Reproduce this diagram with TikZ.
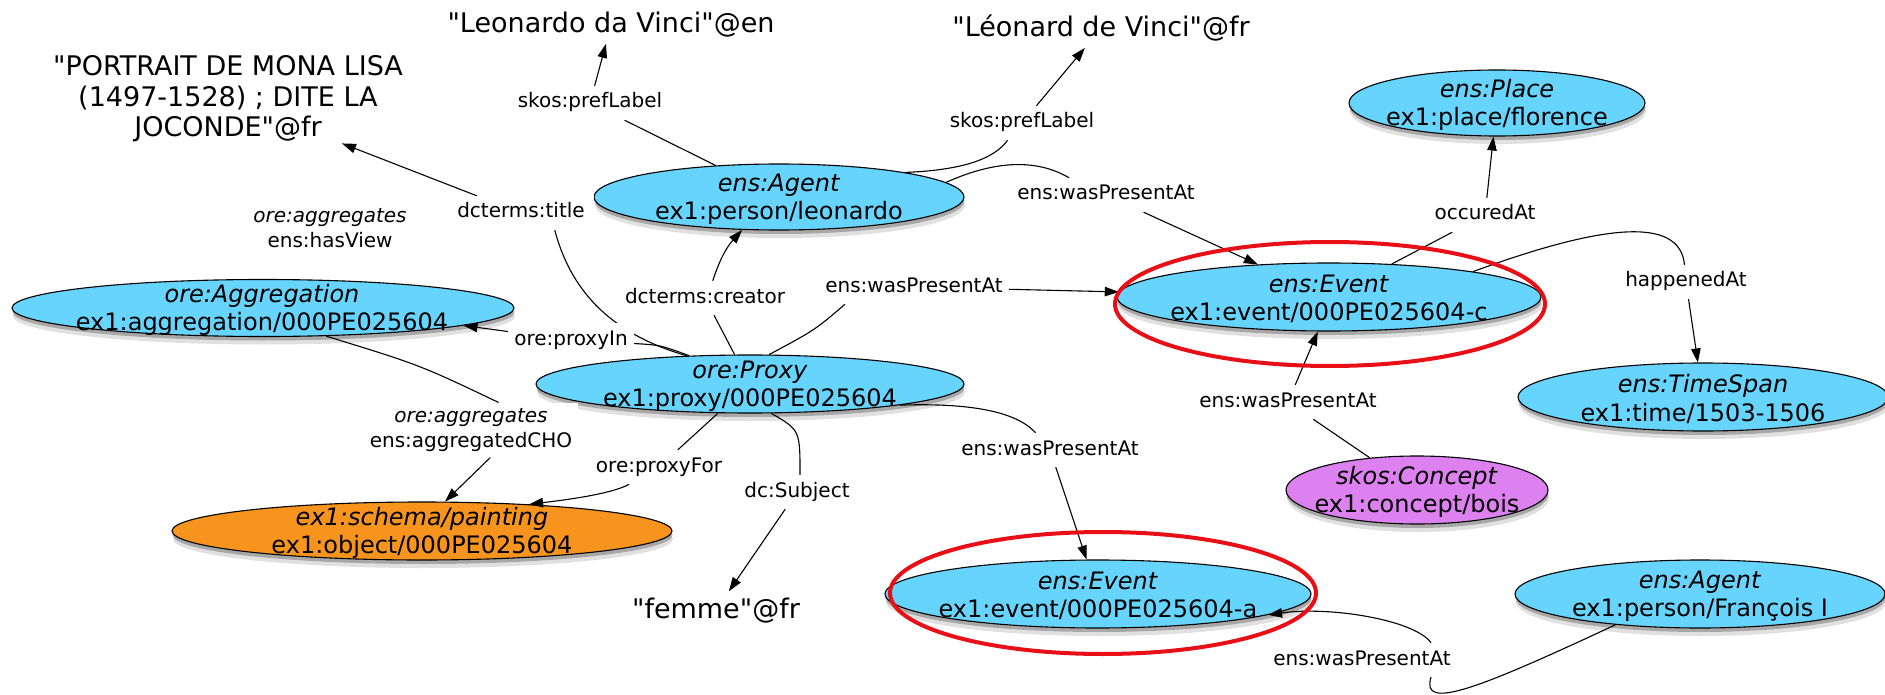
\documentclass[tikz,border=0pt]{standalone}
\usepackage{fontspec}
\newfontfamily\dvs{DejaVu Sans}
\usetikzlibrary{shapes.geometric,arrows.meta,shadows}
\definecolor{entblue}{RGB}{102,212,252}
\definecolor{entorange}{RGB}{247,148,30}
\definecolor{entpurple}{RGB}{221,128,240}
\definecolor{hlred}{RGB}{232,16,22}
\pgfdeclarelayer{fg}
\pgfsetlayers{main,fg}
\begin{document}
\begin{tikzpicture}[x=1pt,y=-1pt,
  ent/.style={ellipse, draw=black, line width=1.1pt, inner sep=0pt, fill=entblue,
    drop shadow={shadow xshift=1pt, shadow yshift=-8pt, opacity=0.12, fill=black},
    drop shadow={shadow xshift=0.5pt, shadow yshift=-4pt, opacity=0.25, fill=black}},
  enttext/.style={font=\dvs\fontsize{24}{28.5}\selectfont, align=center, inner sep=0pt},
  elabel/.style={fill=white, inner xsep=6pt, inner ysep=7pt, text height=15pt, text depth=5pt, font=\dvs\fontsize{20}{24}\selectfont},
  elabeltwo/.style={fill=white, inner sep=6pt, align=center, font=\dvs\fontsize{20}{24.5}\selectfont},
  lit/.style={font=\dvs\fontsize{27}{30.5}\selectfont, align=center, inner sep=6pt},
  edge/.style={line width=1.1pt},
  arr/.style={edge, -{Triangle[length=14pt,width=9.5pt]}},
  hl/.style={ellipse, draw=hlred, line width=4pt, inner sep=0pt},
]
\dvs
\useasboundingbox (0,0) rectangle (1885,695);

% ---------- entity ellipses ----------
\node[ent, minimum width=370pt, minimum height=66pt] (leo) at (779,197) {};
\node[enttext] (leo-t) at (779,199) {\textit{ens:Agent}\\ex1:person/leonardo};

\node[ent, minimum width=502pt, minimum height=57pt] (agg) at (263,308) {};
\node[enttext] (agg-t) at (262,310) {\textit{ore:Aggregation}\\ex1:aggregation/000PE025604};

\node[ent, minimum width=428pt, minimum height=58pt] (proxy) at (750,384) {};
\node[enttext] (proxy-t) at (750,386) {\textit{ore:Proxy}\\ex1:proxy/000PE025604};

\node[ent, fill=entorange, minimum width=500pt, minimum height=58pt] (painting) at (422,531) {};
\node[enttext] (painting-t) at (422,533) {\textit{ex1:schema/painting}\\ex1:object/000PE025604};

\node[ent, minimum width=424pt, minimum height=68pt] (evc) at (1329,297) {};
\node[enttext] (evc-t) at (1329,299) {\textit{ens:Event}\\ex1:event/000PE025604-c};

\node[ent, minimum width=296pt, minimum height=66pt] (place) at (1497,103) {};
\node[enttext] (place-t) at (1497,105) {\textit{ens:Place}\\ex1:place/florence};

\node[ent, minimum width=370pt, minimum height=68pt] (timespan) at (1703,397) {};
\node[enttext] (timespan-t) at (1703,399) {\textit{ens:TimeSpan}\\ex1:time/1503-1506};

\node[ent, fill=entpurple, minimum width=262pt, minimum height=68pt] (concept) at (1417,490) {};
\node[enttext] (concept-t) at (1417,492) {\textit{skos:Concept}\\ex1:concept/bois};

\node[ent, minimum width=426pt, minimum height=68pt] (eva) at (1098,594) {};
\node[enttext] (eva-t) at (1098,596) {\textit{ens:Event}\\ex1:event/000PE025604-a};

\node[ent, minimum width=370pt, minimum height=68pt] (francois) at (1700,594) {};
\node[enttext] (francois-t) at (1700,596) {\textit{ens:Agent}\\ex1:person/François I};

% ---------- literals ----------
\node[lit, inner sep=1pt] (lit-title) at (228,99) {"PORTRAIT DE MONA LISA\\(1497-1528) ; DITE LA\\JOCONDE"@fr};
\node[lit, anchor=base] (lit-en) at (611,33) {"Leonardo da Vinci"@en};
\node[lit, anchor=base] (lit-fr) at (1101,37) {"Léonard de Vinci"@fr};
\node[lit, anchor=base] (femme) at (716,618) {"femme"@fr};

% ---------- edge labels (on top) ----------
\begin{pgfonlayer}{fg}
\node[elabel] (sp1) at (590,103) {skos:prefLabel};
\node[elabel] (sp2) at (1022,123) {skos:prefLabel};
\node[elabel] (wpa1) at (1106,195) {ens:wasPresentAt};
\node[elabel] (creator) at (705,298) {dcterms:creator};
\node[elabel] (wpa2) at (914,287) {ens:wasPresentAt};
\node[elabel, inner xsep=9pt] (title) at (521,213) {dcterms:title};
\node[elabeltwo] (hasview) at (330,228) {\textit{ore:aggregates}\\ens:hasView};
\node[elabel] (proxyIn) at (571,340) {ore:proxyIn};
\node[elabeltwo] (aggCHO) at (471,430) {\textit{ore:aggregates}\\ens:aggregatedCHO};
\node[elabel] (proxyFor) at (659,467) {ore:proxyFor};
\node[elabel] (subject) at (797,492) {dc:Subject};
\node[elabel] (wpa3) at (1050,450) {ens:wasPresentAt};
\node[elabel] (wpa4) at (1288,402) {ens:wasPresentAt};
\node[elabel] (wpa5) at (1362,660) {ens:wasPresentAt};
\node[elabel] (occured) at (1485,215) {occuredAt};
\node[elabel] (happened) at (1686,282) {happenedAt};
% highlight rings
\node[hl, minimum width=430pt, minimum height=124pt] (hlc) at (1330,304) {};
\node[hl, minimum width=426pt, minimum height=122pt] (hla) at (1103,593) {};
\end{pgfonlayer}

% ---------- connectors ----------
\draw[edge] (leo) -- (sp1);
\draw[arr] (sp1) -- (lit-en);

\draw[edge] (leo.11) .. controls (965,170) and (995,158) .. (sp2.230);
\draw[arr] (sp2) -- (lit-fr);

\draw[edge] (leo.5) .. controls (985,165) and (1030,155) .. (wpa1.155);
\draw[arr] (wpa1) -- (evc);

\draw[edge] (proxy) -- (creator);
\draw[arr] (creator) to[bend left=12] (leo);

\draw[edge] (proxy.57) .. controls (815,330) .. (wpa2.194);
\draw[arr] (wpa2) -- (evc);

\draw[edge] (proxy.156) .. controls (615,335) and (572,295) .. (title.-27);
\draw[arr] (title) -- (lit-title);

\draw[edge] (proxy.155) .. controls (660,345) .. (proxyIn);
\draw[arr] (proxyIn) -- (agg.-5);

\draw[edge] (agg.-24) .. controls (420,365) .. (aggCHO.45);
\draw[arr] (aggCHO.-55) -- (painting.52);

\draw[edge] (proxy) -- (proxyFor);
\draw[arr] (proxyFor.210) .. controls (612,494) and (565,500) .. (painting.14);

\draw[edge] (proxy.-54) .. controls (800,430) .. (subject.80);
\draw[arr] (subject) -- (femme);

\draw[edge] (proxy.-8.5) .. controls (965,403) and (1015,410) .. (wpa3.130);
\draw[arr] (wpa3) -- (eva);

\draw[edge] (concept) -- (wpa4);
\draw[arr] (wpa4) -- (evc.-108);

\draw[edge] (francois.-160) .. controls (1480,688) and (1420,712) .. (wpa5.-14);
\draw[arr] (wpa5.14) .. controls (1415,620) and (1330,606) .. (eva.-7);

\draw[edge] (evc) -- (occured);
\draw[arr] (occured) -- (place);

\draw[edge] (evc.10) .. controls (1600,225) and (1680,215) .. (happened.95);
\draw[arr] (happened) -- (timespan);
\end{tikzpicture}
\end{document}
